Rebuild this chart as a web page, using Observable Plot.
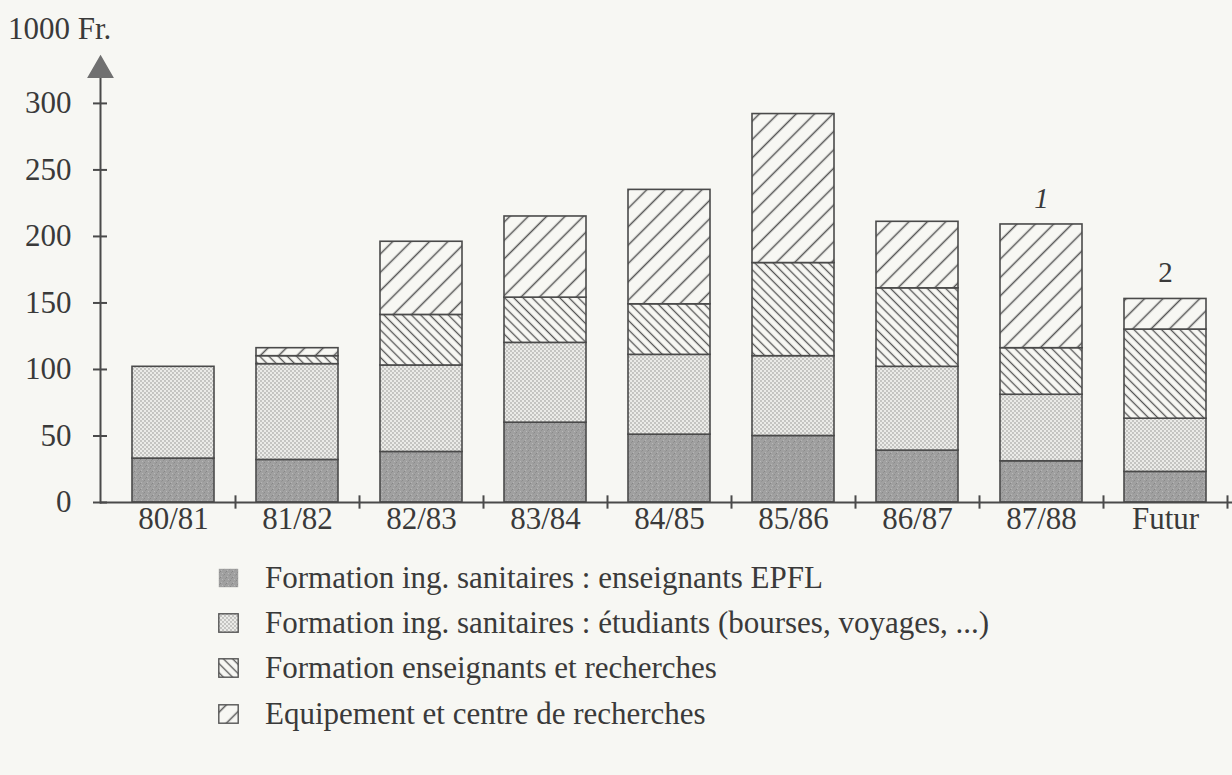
<!DOCTYPE html>
<html>
<head>
<meta charset="utf-8">
<script src="https://cdn.jsdelivr.net/npm/d3@7"></script>
<script src="https://cdn.jsdelivr.net/npm/@observablehq/plot@0.6"></script>
<style>
  body { margin:0; background:#f7f7f3; font-family:"Liberation Serif", serif; color:#3a3a3a; }
  #wrap { position:relative; width:1232px; height:775px; overflow:hidden; }
  #unit { position:absolute; left:8px; top:11px; font-size:31px; }
  #legend { position:absolute; left:218px; top:555px; }
  .row { height:45.3px; display:flex; align-items:center; font-size:31px; }
  .row svg { width:21px; height:20px; margin-right:26px; flex:none; }
</style>
</head>
<body>
<div id="wrap">
  <div id="chart"></div>
  <div id="unit">1000 Fr.</div>
  <div id="legend"></div>
</div>
<script>
// ---- data ----
const categories = ["80/81","81/82","82/83","83/84","84/85","85/86","86/87","87/88","Futur"];
const series = [
  "Formation ing. sanitaires : enseignants EPFL",
  "Formation ing. sanitaires : étudiants (bourses, voyages, ...)",
  "Formation enseignants et recherches",
  "Equipement et centre de recherches"
];
const enseignantsEPFL    = [33, 32, 38, 60, 51, 50, 39, 31, 23];
const etudiants          = [69, 72, 65, 60, 60, 60, 63, 50, 40];
const formationRecherche = [ 0,  6, 38, 34, 38, 70, 59, 35, 67];
const equipement         = [ 0,  6, 55, 61, 86,112, 50, 93, 23];
const yTicks = [0, 50, 100, 150, 200, 250, 300];
const notes = [{cat:"87/88", label:"1", italic:true}, {cat:"Futur", label:"2", italic:false}];
const patternIds = ["patDark", "patLight", "patBack", "patFwd"];

// ---- build table ----
const valuesBySeries = [enseignantsEPFL, etudiants, formationRecherche, equipement];
const data = categories.flatMap((c, i) => series.map((s, j) => ({cat:c, series:s, value:valuesBySeries[j][i]})));
const totals = new Map(categories.map((c, i) => [c, d3.sum(valuesBySeries, v => v[i])]));

const ink = "#4a4a4a";

const chart = Plot.plot({
  width: 1232, height: 545,
  marginLeft: 100, marginRight: 0, marginTop: 63, marginBottom: 43,
  style: {background:"transparent", fontFamily:"Liberation Serif, serif", fontSize:"31px", color:"#3a3a3a", overflow:"visible"},
  x: {type:"band", domain:categories, range:[104, 1234], paddingInner:0.34, paddingOuter:0.22, axis:null},
  y: {domain:[0, 330], axis:null},
  color: {domain:series, range:patternIds.map(p => `url(#${p})`)},
  marks: [
    Plot.barY(data, {x:"cat", y:"value", fill:"series", stroke:ink, strokeWidth:1.6, order:series}),
    Plot.ruleY([0], {stroke:ink, strokeWidth:2}),
    Plot.ruleX(categories, {x:d => d, y1:-5, y2:5, dx:62, stroke:ink, strokeWidth:2}),
    Plot.frame({anchor:"left", stroke:ink, strokeWidth:2}),
    Plot.dot([325], {y:d => d, frameAnchor:"left", symbol:"triangle", r:9, fill:"#707070", stroke:"#707070"}),
    Plot.axisY({ticks:yTicks, tickSize:14, dx:7, tickFormat:() => "", label:null, stroke:ink, strokeWidth:2}),
    Plot.axisY({ticks:yTicks, tickSize:0, tickPadding:29, label:null, fontSize:31, fill:"#3a3a3a"}),
    Plot.axisX({tickSize:0, tickPadding:4, label:null, fontSize:31, fill:"#3a3a3a"}),
    Plot.text(notes.filter(d => d.italic), {x:"cat", y:d => totals.get(d.cat), text:"label", dy:-26, fontSize:29, fontStyle:"italic", fill:"#3a3a3a"}),
    Plot.text(notes.filter(d => !d.italic), {x:"cat", y:d => totals.get(d.cat), text:"label", dy:-26, fontSize:29, fill:"#3a3a3a"})
  ]
});

// ---- patterns ----
const svg = d3.select(chart);
const defs = svg.insert("defs", ":first-child");
function addPatterns(defs) {
  const pd = defs.append("pattern").attr("id","patDark").attr("patternUnits","userSpaceOnUse").attr("width",6).attr("height",6);
  pd.append("rect").attr("width",6).attr("height",6).attr("fill","#a0a0a0");
  [[0,0,"#8a8a8a"],[3,2,"#b4b4b4"],[1,4,"#909090"],[4,5,"#b8b8b8"],[5,1,"#959595"],[2,3,"#868686"]]
    .forEach(([x,y,c]) => pd.append("rect").attr("x",x).attr("y",y).attr("width",1).attr("height",1).attr("fill",c));
  const pl = defs.append("pattern").attr("id","patLight").attr("patternUnits","userSpaceOnUse").attr("width",4).attr("height",4);
  pl.append("rect").attr("width",4).attr("height",4).attr("fill","#ebebe8");
  pl.append("circle").attr("cx",1).attr("cy",1).attr("r",0.9).attr("fill","#b2b2b0");
  pl.append("circle").attr("cx",3).attr("cy",3).attr("r",0.9).attr("fill","#b2b2b0");
  const pb = defs.append("pattern").attr("id","patBack").attr("patternUnits","userSpaceOnUse").attr("width",6.5).attr("height",6.5).attr("patternTransform","rotate(45)");
  pb.append("rect").attr("width",6.5).attr("height",6.5).attr("fill","#f7f7f3");
  pb.append("line").attr("x1",0).attr("x2",6.5).attr("y1",3.25).attr("y2",3.25).attr("stroke","#555").attr("stroke-width",1.3);
  const pf = defs.append("pattern").attr("id","patFwd").attr("patternUnits","userSpaceOnUse").attr("width",13).attr("height",13).attr("patternTransform","rotate(-45)");
  pf.append("rect").attr("width",13).attr("height",13).attr("fill","#f7f7f3");
  pf.append("line").attr("x1",0).attr("x2",13).attr("y1",6.5).attr("y2",6.5).attr("stroke","#555").attr("stroke-width",1.5);
}
addPatterns(defs);
document.getElementById("chart").appendChild(chart);

// ---- legend ----
const legend = d3.select("#legend");
series.forEach((s, j) => {
  const row = legend.append("div").attr("class","row");
  const sw = row.append("svg").attr("viewBox","0 0 21 20");
  sw.append("rect").attr("x",0.8).attr("y",0.8).attr("width",19.4).attr("height",18.4)
    .attr("fill",`url(#${patternIds[j]})`).attr("stroke", j === 0 ? "none" : "#555").attr("stroke-width",1.4);
  row.append("span").text(s);
});
</script>
</body>
</html>
